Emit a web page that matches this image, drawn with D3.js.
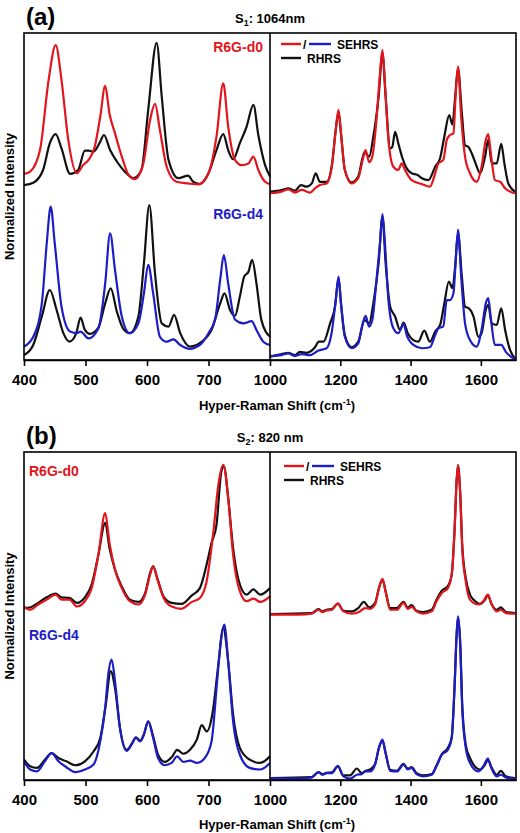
<!DOCTYPE html>
<html>
<head>
<meta charset="utf-8">
<script src="https://cdn.jsdelivr.net/npm/d3@7"></script>
<style>
  body { margin: 0; background: #fff; }
  svg { display: block; font-family: "Liberation Sans", Arial, sans-serif; font-weight: bold; }
  .axis path, .axis line { stroke: #000; stroke-width: 1.6; }
  .axis text { font-size: 15px; font-weight: bold; fill: #000; font-family: "Liberation Sans", Arial, sans-serif; }
  .spec { fill: none; stroke-width: 2.2; stroke-linejoin: round; }
</style>
</head>
<body>
<svg id="chart" width="520" height="833"></svg>
<script>
// x ranges of the two halves of each panel
var lowRange = [400, 800];
var highRange = [1000, 1700];
var lowTicks = [400, 500, 600, 700];
var highTicks = [1000, 1200, 1400, 1600];

// ---- (a) S1: 1064 nm, intensity in % of panel height, d0 on top, d4 below ----
var a_d0_se_lo = [[400,56.9],[410,57.6],[426,64.2],[440,85.6],[451.5,96.3],[461,85.6],[472,67.3],[486,57.1],[496,59.6],[505,61.2],[515,65.2],[524,74.4],[532,83.8],[539,75.3],[548,69.3],[559,62.2],[570,56.6],[580,55.3],[594,60.1],[605,73.4],[613,78.3],[621,70.3],[632,59.1],[648,54.5],[667,54.0],[683,53.7],[700,57.1],[713,68.3],[724,84.6],[732,71.4],[743,61.2],[754,59.6],[765,60.1],[773,62.2],[781,58.1],[792,54.5],[800,53.8]];
var a_d0_rh_lo = [[400,53.5],[415,54.2],[431,58.1],[442,66.3],[451.5,69.1],[461,64.7],[475,56.9],[488,58.1],[499,64.0],[505,64.0],[513,63.7],[524,66.8],[530,68.8],[540,64.2],[551,60.7],[564,57.6],[578,55.6],[591,58.1],[602,76.5],[615.7,97.0],[624,80.5],[635,61.2],[651,55.6],[667,56.4],[675,54.5],[686,53.8],[700,57.1],[713,64.2],[724,69.1],[732,64.2],[740,61.4],[751,66.3],[762,71.4],[773,78.0],[781,68.8],[792,59.6],[800,56.1]];
var a_d4_se_lo = [[400,4.1],[415,7.1],[429,17.3],[437,35.7],[443.4,46.9],[450,35.7],[461,16.3],[475,8.7],[486,8.2],[492,8.7],[505,6.6],[521,9.7],[532,23.4],[540,38.7],[548,27.5],[559,13.3],[572,8.2],[586,11.2],[595,20.4],[602,29.1],[610,20.4],[621,7.1],[632,5.6],[643,6.3],[654,4.6],[670,3.4],[686,4.6],[700,8.2],[711,12.7],[719,24.5],[725,32.1],[732,23.4],[743,12.4],[757,11.2],[770,11.9],[778,9.2],[789,5.6],[800,4.6]];
var a_d4_rh_lo = [[400,1.5],[415,4.6],[429,13.3],[442,21.4],[453,15.3],[464,8.2],[474,5.6],[485,8.2],[492,13.0],[499,9.2],[507,8.0],[521,9.9],[532,17.3],[541,21.9],[551,14.8],[561,9.7],[572,8.2],[586,13.3],[595,29.6],[603.8,47.4],[613,26.5],[624,11.2],[635,10.2],[644,13.8],[654,8.2],[670,4.1],[689,5.6],[705,9.2],[719,17.3],[726,20.4],[735,15.3],[743,13.5],[751,19.4],[758,25.5],[765,27.0],[771,30.6],[778,23.4],[786,12.2],[800,7.1]];
var a_d0_se_hi = [[1000,51.0],[1033,51.5],[1052,52.2],[1071,51.2],[1090,52.0],[1114,51.2],[1128,52.5],[1142,53.5],[1161,54.0],[1176,59.1],[1187,70.3],[1195,76.5],[1202,69.3],[1213,58.1],[1232,54.0],[1251,55.6],[1266,62.2],[1272,64.2],[1282,60.5],[1291,62.2],[1304,74.8],[1313,87.7],[1320,94.8],[1327,84.6],[1337,67.3],[1351,59.1],[1365,58.1],[1375,60.1],[1384,58.1],[1403,55.0],[1432,53.8],[1455,53.0],[1470,57.1],[1479,60.1],[1493,61.2],[1503,67.3],[1512,68.8],[1522,69.3],[1528,80.5],[1535,89.7],[1544,74.4],[1555,62.2],[1569,57.1],[1588,54.5],[1602,59.1],[1614,67.3],[1621,69.1],[1629,62.6],[1640,55.0],[1655,54.5],[1669,52.5],[1697,51.0]];
var a_d0_rh_hi = [[1000,51.5],[1033,52.0],[1052,52.5],[1071,51.8],[1088,53.5],[1104,53.0],[1119,54.0],[1130,57.1],[1142,54.5],[1161,54.5],[1176,59.6],[1187,70.3],[1195,75.9],[1202,69.3],[1213,58.1],[1232,54.3],[1251,56.1],[1269,63.6],[1282,62.2],[1294,68.3],[1309,80.5],[1320,93.8],[1329,80.5],[1342,64.7],[1348,65.2],[1356,69.8],[1365,66.3],[1377,61.7],[1389,58.6],[1403,57.1],[1420,56.6],[1432,55.6],[1451,55.0],[1470,59.1],[1484,61.7],[1496,68.3],[1510,74.9],[1519,72.0],[1526,79.3],[1535,89.2],[1546,75.4],[1555,65.7],[1564,65.2],[1576,62.7],[1585,60.1],[1598,57.1],[1612,62.2],[1621,67.3],[1631,60.1],[1645,60.1],[1658,66.1],[1667,60.1],[1678,54.0],[1697,51.5]];
var a_d4_se_hi = [[1000,1.2],[1033,1.5],[1052,2.0],[1071,1.2],[1090,1.8],[1114,1.5],[1138,2.9],[1161,3.6],[1176,8.7],[1187,18.3],[1195,25.5],[1202,17.3],[1213,7.1],[1232,3.6],[1251,5.1],[1264,11.2],[1272,13.5],[1282,10.2],[1291,12.2],[1304,25.5],[1313,35.7],[1320,44.6],[1327,35.7],[1337,18.3],[1351,9.7],[1365,8.2],[1380,11.0],[1389,7.6],[1408,4.6],[1432,3.6],[1455,3.9],[1470,7.6],[1479,9.7],[1493,10.2],[1503,18.3],[1512,18.3],[1522,20.4],[1528,29.6],[1535,39.8],[1544,25.5],[1555,11.2],[1569,6.1],[1588,4.1],[1602,9.2],[1614,17.3],[1621,18.9],[1629,12.2],[1640,4.6],[1658,4.6],[1671,2.5],[1697,0.2]];
var a_d4_rh_hi = [[1000,1.0],[1033,1.8],[1052,2.2],[1071,1.5],[1085,2.5],[1104,2.2],[1128,3.9],[1139,5.6],[1152,5.6],[1171,11.2],[1185,16.3],[1195,25.0],[1202,17.3],[1213,7.6],[1232,3.9],[1251,5.6],[1269,12.2],[1282,11.2],[1294,17.3],[1309,29.6],[1320,43.8],[1329,29.6],[1342,16.3],[1356,13.3],[1370,9.2],[1380,11.4],[1392,8.2],[1408,6.1],[1422,5.6],[1439,9.0],[1455,5.6],[1470,8.7],[1484,10.7],[1496,17.3],[1509,24.0],[1519,22.0],[1526,27.5],[1535,38.7],[1546,25.5],[1555,16.3],[1566,15.8],[1579,13.3],[1593,7.1],[1602,8.2],[1614,15.3],[1621,16.9],[1631,11.2],[1645,10.7],[1658,15.8],[1669,9.2],[1683,3.1],[1697,0.5]];

// ---- (b) S2: 820 nm ----
var b_d0_se_lo = [[400,52.9],[410,51.9],[423,53.5],[437,55.0],[451.5,56.5],[461,55.0],[474,55.0],[486,52.9],[499,54.5],[510,58.5],[521,68.7],[532,81.4],[539,72.3],[548,64.1],[559,58.5],[572,54.5],[586,53.5],[597,56.5],[605,62.6],[610,65.1],[617,61.1],[627,55.5],[640,52.9],[656,52.2],[673,54.3],[686,55.5],[697,60.6],[708,75.8],[716,90.0],[724,96.1],[732,86.0],[740,68.7],[751,57.5],[762,54.5],[773,55.3],[784,54.3],[800,56.0]];
var b_d0_rh_lo = [[400,52.4],[410,52.6],[423,54.0],[437,55.7],[451.5,56.8],[461,55.7],[474,55.5],[486,54.0],[499,55.7],[510,59.6],[521,68.7],[532,78.4],[539,70.7],[548,64.1],[559,59.0],[572,55.0],[586,54.3],[597,57.0],[605,63.1],[610,65.1],[617,61.4],[627,55.9],[640,54.0],[656,53.7],[673,56.3],[686,58.5],[697,65.7],[705,72.3],[713,77.8],[721,94.1],[725,95.6],[732,86.0],[740,70.7],[751,59.6],[762,56.5],[773,58.1],[784,56.5],[800,58.5]];
var b_d4_se_lo = [[400,5.7],[410,3.2],[421,2.6],[434,5.7],[445,8.2],[456,5.7],[469,3.9],[483,2.4],[499,3.2],[513,4.7],[524,11.8],[532,22.0],[537,32.1],[542.5,36.7],[548,30.1],[556,15.9],[567,8.9],[575,10.8],[582,12.8],[589,11.8],[595,13.8],[602,17.9],[610,12.8],[618,6.7],[629,4.5],[640,5.2],[649,7.2],[659,5.5],[670,5.9],[681,5.2],[694,6.7],[705,11.8],[714,30.1],[720,42.3],[725.7,47.4],[732,36.2],[740,17.9],[751,7.7],[767,3.7],[784,3.2],[800,5.2]];
var b_d4_rh_lo = [[400,6.2],[410,4.2],[421,3.7],[434,6.2],[445,8.2],[456,6.7],[469,5.7],[483,4.5],[499,5.7],[513,8.7],[524,12.8],[533,23.0],[541,33.2],[548,28.0],[556,15.9],[567,9.2],[575,11.0],[582,13.0],[589,12.0],[595,14.0],[602,17.9],[610,13.3],[618,7.7],[629,5.5],[640,6.9],[649,9.2],[659,8.0],[670,9.2],[681,12.3],[689,16.7],[697,14.8],[707,20.9],[716,35.2],[724,46.3],[732,36.2],[740,19.9],[751,9.8],[767,6.2],[784,5.2],[800,7.2]];
var b_d0_se_hi = [[1000,50.4],[1081,50.4],[1119,50.7],[1138,51.9],[1149,51.2],[1161,51.7],[1176,51.9],[1193,53.8],[1209,51.4],[1232,50.7],[1256,51.4],[1270,52.4],[1285,52.2],[1299,53.5],[1310,58.5],[1320,61.3],[1329,57.5],[1342,51.9],[1361,51.9],[1380,54.0],[1392,52.2],[1403,52.8],[1417,51.4],[1436,50.7],[1460,51.4],[1474,54.5],[1489,57.0],[1506,58.5],[1517,62.6],[1525,75.8],[1531,91.1],[1535,96.1],[1541,88.0],[1547,70.7],[1557,60.6],[1569,55.0],[1593,53.5],[1607,54.5],[1620,56.5],[1629,54.0],[1645,51.4],[1657,51.9],[1671,50.9],[1697,50.7]];
var b_d0_rh_hi = [[1000,50.6],[1119,50.9],[1138,52.1],[1149,51.4],[1161,51.9],[1176,52.1],[1193,53.8],[1209,51.6],[1232,51.4],[1251,52.4],[1267,54.3],[1282,52.6],[1299,54.0],[1310,58.5],[1320,61.1],[1329,57.5],[1342,52.4],[1361,52.4],[1380,54.3],[1392,52.6],[1403,53.3],[1417,51.6],[1436,51.2],[1460,51.9],[1474,55.0],[1489,57.7],[1506,59.1],[1517,62.6],[1525,75.8],[1531,91.1],[1535,95.9],[1541,88.0],[1547,71.7],[1557,61.6],[1569,56.5],[1579,55.0],[1598,53.7],[1612,55.0],[1620,56.3],[1631,53.5],[1645,51.9],[1657,52.6],[1671,51.2],[1697,50.9]];
var b_d4_se_hi = [[1000,0.6],[1081,0.4],[1119,0.8],[1138,2.4],[1149,1.6],[1161,2.1],[1176,2.1],[1193,4.2],[1209,1.1],[1228,0.4],[1247,1.6],[1261,1.8],[1272,2.6],[1285,2.6],[1299,4.7],[1310,9.8],[1320,12.3],[1329,8.2],[1342,2.8],[1361,2.6],[1380,4.7],[1392,3.2],[1403,3.7],[1417,1.8],[1436,1.1],[1460,1.6],[1474,4.2],[1489,7.7],[1506,9.2],[1517,12.8],[1525,28.0],[1531,44.3],[1535,49.9],[1541,42.3],[1547,22.0],[1557,9.8],[1569,5.2],[1593,2.6],[1607,4.2],[1620,6.5],[1629,3.9],[1645,1.1],[1657,1.6],[1671,0.8],[1697,0.4]];
var b_d4_rh_hi = [[1000,0.6],[1119,0.9],[1138,2.4],[1149,1.8],[1161,2.2],[1176,2.3],[1193,4.2],[1209,1.4],[1228,1.4],[1247,3.5],[1261,2.1],[1272,2.8],[1285,3.2],[1299,4.9],[1310,9.8],[1320,12.0],[1329,8.2],[1342,3.1],[1361,2.8],[1380,4.9],[1392,3.5],[1403,3.9],[1417,2.1],[1436,1.4],[1460,1.8],[1474,4.5],[1489,7.9],[1506,9.8],[1517,13.0],[1525,28.0],[1531,44.3],[1535,49.6],[1541,42.3],[1547,23.0],[1557,10.8],[1569,6.7],[1579,4.7],[1598,3.2],[1612,4.7],[1620,6.1],[1631,3.7],[1645,1.6],[1657,2.8],[1671,1.1],[1697,0.6]];

var RED = "#e3151c", BLUE = "#1d1dc6", BLACK = "#111";

var svg = d3.select("#chart");

var left = 24, mid = 270, right = 516;
var xLo = d3.scaleLinear().domain(lowRange).range([left, mid]);
var xHi = d3.scaleLinear().domain(highRange).range([mid, right]);

function drawPanel(cfg) {
    var y = d3.scaleLinear().domain([0, 100]).range([cfg.bottom, cfg.top]);
    var g = svg.append("g");

    var clipId = "clip-" + cfg.name;
    svg.append("clipPath").attr("id", clipId)
        .append("rect")
        .attr("x", left).attr("y", cfg.top)
        .attr("width", right - left).attr("height", cfg.bottom - cfg.top);

    var lines = g.append("g").attr("clip-path", "url(#" + clipId + ")");

    // black RHRS first, coloured SEHRS on top
    cfg.series.forEach(function(s) {
        var xs = s.half == "lo" ? xLo : xHi;
        var line = d3.line()
            .x(function(d) { return xs(d[0]); })
            .y(function(d) { return y(d[1]); })
            .curve(d3.curveMonotoneX);
        lines.append("path")
            .datum(s.data)
            .attr("class", "spec")
            .attr("stroke", s.color)
            .attr("d", line);
    });

    // frame
    g.append("rect")
        .attr("x", left).attr("y", cfg.top)
        .attr("width", right - left).attr("height", cfg.bottom - cfg.top)
        .attr("fill", "none").attr("stroke", "#000").attr("stroke-width", 1.6);
    g.append("line")
        .attr("x1", mid).attr("x2", mid)
        .attr("y1", cfg.top).attr("y2", cfg.bottom)
        .attr("stroke", "#000").attr("stroke-width", 1.6);

    // bottom axes
    g.append("g").attr("class", "axis")
        .attr("transform", "translate(0," + cfg.bottom + ")")
        .call(d3.axisBottom(xLo).tickValues(lowTicks).tickFormat(d3.format("d"))
            .tickSize(6).tickSizeOuter(0).tickPadding(8));
    g.append("g").attr("class", "axis")
        .attr("transform", "translate(0," + cfg.bottom + ")")
        .call(d3.axisBottom(xHi).tickValues(highTicks).tickFormat(d3.format("d"))
            .tickSize(6).tickSizeOuter(0).tickPadding(8));

    // x axis title
    var t = g.append("text")
        .attr("x", 277).attr("y", cfg.bottom + cfg.titleOffset)
        .attr("text-anchor", "middle")
        .style("font-size", "13px");
    t.append("tspan").text("Hyper-Raman Shift (cm");
    t.append("tspan").attr("dy", -5).style("font-size", "9px").text("-1");
    t.append("tspan").attr("dy", 5).text(")");

    // y axis title
    g.append("text")
        .attr("transform", "translate(14," + ((cfg.top + cfg.bottom) / 2) + ") rotate(-90)")
        .attr("text-anchor", "middle")
        .style("font-size", "13px")
        .text("Normalized Intensity");

    // panel letter
    g.append("text")
        .attr("x", 26).attr("y", cfg.top - 8)
        .style("font-size", "24px")
        .text(cfg.letter);

    // excitation
    var s = g.append("text")
        .attr("x", 270).attr("y", cfg.top - 10)
        .attr("text-anchor", "middle")
        .style("font-size", "13px");
    s.append("tspan").text("S");
    s.append("tspan").attr("dy", 3).style("font-size", "9px").text(cfg.sub);
    s.append("tspan").attr("dy", -3).text(": " + cfg.laser);

    // sample labels
    cfg.labels.forEach(function(l) {
        g.append("text")
            .attr("x", l.x).attr("y", l.y)
            .attr("text-anchor", l.anchor)
            .attr("fill", l.color)
            .style("font-size", "14px")
            .text(l.text);
    });

    // legend
    var lx = cfg.legendX, ly = cfg.legendY;
    var leg = g.append("g").attr("transform", "translate(" + lx + "," + ly + ")");
    leg.append("line").attr("x1", 0).attr("x2", 20).attr("y1", 0).attr("y2", 0)
        .attr("stroke", RED).attr("stroke-width", 2.4);
    leg.append("text").attr("x", 22).attr("y", 4.5).style("font-size", "12px").text("/");
    leg.append("line").attr("x1", 28).attr("x2", 50).attr("y1", 0).attr("y2", 0)
        .attr("stroke", BLUE).attr("stroke-width", 2.4);
    leg.append("text").attr("x", 56).attr("y", 4.5).style("font-size", "12px").text("SEHRS");
    leg.append("line").attr("x1", 0).attr("x2", 20).attr("y1", 14).attr("y2", 14)
        .attr("stroke", BLACK).attr("stroke-width", 2.4);
    leg.append("text").attr("x", 26).attr("y", 18.5).style("font-size", "12px").text("RHRS");
}

drawPanel({
    name: "a", letter: "(a)", sub: "1", laser: "1064nm",
    top: 33, bottom: 360, titleOffset: 50,
    legendX: 281, legendY: 44,
    series: [
        {half: "lo", color: BLACK, data: a_d0_rh_lo},
        {half: "lo", color: BLACK, data: a_d4_rh_lo},
        {half: "hi", color: BLACK, data: a_d0_rh_hi},
        {half: "hi", color: BLACK, data: a_d4_rh_hi},
        {half: "lo", color: RED, data: a_d0_se_lo},
        {half: "lo", color: BLUE, data: a_d4_se_lo},
        {half: "hi", color: RED, data: a_d0_se_hi},
        {half: "hi", color: BLUE, data: a_d4_se_hi}
    ],
    labels: [
        {text: "R6G-d0", x: 263, y: 52, anchor: "end", color: RED},
        {text: "R6G-d4", x: 263, y: 219, anchor: "end", color: BLUE}
    ]
});

drawPanel({
    name: "b", letter: "(b)", sub: "2", laser: "820 nm",
    top: 452, bottom: 780, titleOffset: 49,
    legendX: 284, legendY: 466,
    series: [
        {half: "lo", color: BLACK, data: b_d0_rh_lo},
        {half: "lo", color: BLACK, data: b_d4_rh_lo},
        {half: "hi", color: BLACK, data: b_d0_rh_hi},
        {half: "hi", color: BLACK, data: b_d4_rh_hi},
        {half: "lo", color: RED, data: b_d0_se_lo},
        {half: "lo", color: BLUE, data: b_d4_se_lo},
        {half: "hi", color: RED, data: b_d0_se_hi},
        {half: "hi", color: BLUE, data: b_d4_se_hi}
    ],
    labels: [
        {text: "R6G-d0", x: 29, y: 476, anchor: "start", color: RED},
        {text: "R6G-d4", x: 29, y: 640, anchor: "start", color: BLUE}
    ]
});
</script>
</body>
</html>
